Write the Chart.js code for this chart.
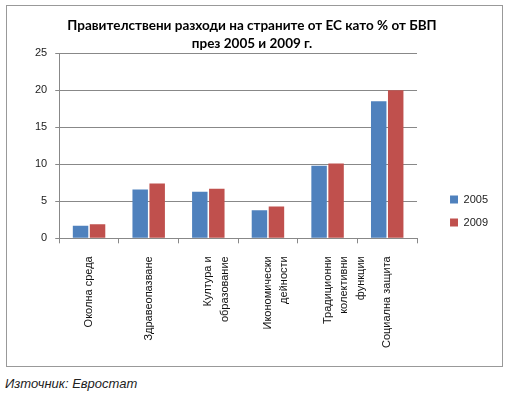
<!DOCTYPE html>
<html>
<head>
<meta charset="utf-8">
<script src="https://cdn.jsdelivr.net/npm/chart.js@4"></script>
<style>
  body { margin: 0; background: #fff; width: 513px; height: 395px; position: relative; overflow: hidden; }
  #box { position: absolute; left: 6px; top: 5px; width: 495px; height: 360px; border: 1px solid #999; }
  #source { position: absolute; left: 5px; top: 376px; font: italic 13px "Liberation Sans", Arial, sans-serif; color: #222; }
</style>
</head>
<body>
<div id="box"><canvas id="chart" width="495" height="360"></canvas></div>
<div id="source">Източник: Евростат</div>
<script>
// ---------- Data ----------
const categories = [
  "Околна среда",
  "Здравеопазване",
  ["Култура и", "образование"],
  ["Икономически", "дейности"],
  ["Традиционни", "колективни", "функции"],
  "Социална защита",
];
const values2005 = [1.7, 6.6, 6.3, 3.8, 9.8, 18.5];
const values2009 = [1.9, 7.4, 6.7, 4.3, 10.1, 20.0];
const yTicks = [0, 5, 10, 15, 20, 25];

// ---------- Legend offset (Excel style: pushed away from the plot) ----------
const legendShift = {
  id: "legendShift",
  afterLayout(chart, args, opts) {
    const lg = chart.legend;
    lg.left += opts.dx; lg.right += opts.dx;
    lg.top += opts.dy; lg.bottom += opts.dy;
  },
};

// ---------- Chart ----------
const ctx = document.getElementById("chart").getContext("2d");

new Chart(ctx, {
  type: "bar",
  data: {
    labels: categories,
    datasets: [
      { label: "2005", data: values2005, backgroundColor: "#4F81BD" },
      { label: "2009", data: values2009, backgroundColor: "#C0504D" },
    ],
  },
  plugins: [legendShift],
  options: {
    responsive: false,
    animation: false,
    devicePixelRatio: 1,
    categoryPercentage: 0.57,
    barPercentage: 0.91,
    layout: { padding: { left: 20, right: 25, top: 0, bottom: 5 } },
    plugins: {
      title: {
        display: true,
        text: ["Правителствени разходи на страните от ЕС като % от БВП", "през 2005 и 2009 г."],
        font: { family: "Lato", size: 13.5, weight: "bold", lineHeight: 1.34 },
        color: "#000",
        padding: { top: 11, bottom: 0 },
      },
      legend: {
        position: "right",
        align: "end",
        labels: {
          boxWidth: 8,
          boxHeight: 8,
          padding: 12,
          color: "#222",
          font: { family: "Liberation Sans", size: 11 },
        },
      },
      legendShift: { dx: 21, dy: -121 },
      tooltip: { enabled: false },
    },
    scales: {
      x: {
        grid: { drawOnChartArea: false, drawTicks: true, tickLength: 5, color: "#888" },
        border: { color: "#888" },
        ticks: {
          autoSkip: false,
          minRotation: 90,
          maxRotation: 90,
          padding: 13,
          color: "#111",
          font: { family: "Liberation Sans", size: 11, lineHeight: 1.5 },
        },
      },
      y: {
        min: 0,
        max: 25,
        afterBuildTicks: (scale) => { scale.ticks = yTicks.map((v) => ({ value: v })); },
        grid: { color: "#888", tickLength: 4 },
        border: { color: "#888" },
        ticks: {
          padding: 8,
          color: "#222",
          font: { family: "Liberation Sans", size: 11 },
        },
      },
    },
  },
});
</script>
</body>
</html>
